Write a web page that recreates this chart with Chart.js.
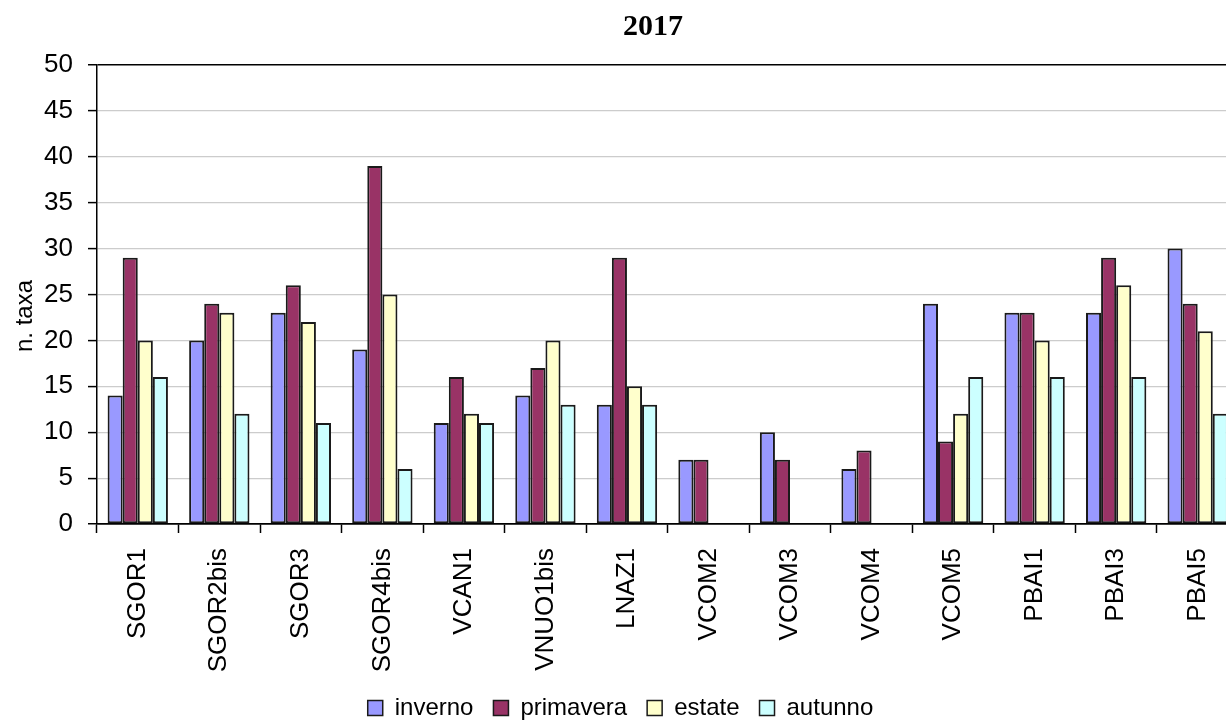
<!DOCTYPE html>
<html>
<head>
<meta charset="utf-8">
<title>2017 - n. taxa</title>
<script src="https://cdn.jsdelivr.net/npm/chart.js@4/dist/chart.umd.min.js"></script>
<style>
  html, body { margin: 0; padding: 0; background: #fff; overflow: hidden; }
  #wrap { width: 1226px; height: 725px; overflow: hidden; }
  canvas { display: block; }
</style>
</head>
<body>
<div id="wrap"><canvas id="chart" width="1244" height="725"></canvas></div>
<script>
// Stations sampled in 2017
const stations = ['SGOR1', 'SGOR2bis', 'SGOR3', 'SGOR4bis', 'VCAN1', 'VNUO1bis', 'LNAZ1',
                  'VCOM2', 'VCOM3', 'VCOM4', 'VCOM5', 'PBAI1', 'PBAI3', 'PBAI5'];

// Number of taxa per season
const inverno   = [14, 20, 23, 19, 11, 14, 13, 7, 10, 6, 24, 23, 23, 30];
const primavera = [29, 24, 26, 39, 16, 17, 29, 7, 7, 8, 9, 23, 29, 24];
const estate    = [20, 23, 22, 25, 12, 20, 15, 0, 0, 0, 12, 20, 26, 21];
const autunno   = [16, 12, 11, 6, 11, 13, 13, 0, 0, 0, 16, 16, 16, 12];

const seasonNames = ['inverno', 'primavera', 'estate', 'autunno'];
const yTicks = [0, 5, 10, 15, 20, 25, 30, 35, 40, 45, 50];

const chartTitle = '2017';
const yTitle = 'n. taxa';

const fills = ['#9999FF', '#993366', '#FFFFCC', '#CCFFFF'];
const series = [inverno, primavera, estate, autunno];

const datasets = series.map((vals, i) => ({
  label: seasonNames[i],
  data: vals,
  backgroundColor: fills[i],
  borderColor: '#1a1a1a',
  borderWidth: 2,
  borderSkipped: false,
  barPercentage: 1.0,
  categoryPercentage: 0.74
}));

// Title and rotated axis caption drawn directly on the canvas
const captions = {
  id: 'captions',
  afterDraw(chart) {
    const ctx = chart.ctx;
    ctx.save();
    ctx.fillStyle = '#000';
    ctx.textAlign = 'center';
    ctx.textBaseline = 'middle';
    ctx.font = 'bold 30px "Liberation Serif", "Times New Roman", serif';
    ctx.fillText(chartTitle, 653, 27);
    ctx.translate(25, 316);
    ctx.rotate(-Math.PI / 2);
    ctx.font = '24px "Liberation Sans", Arial, sans-serif';
    ctx.fillText(yTitle, 0, 0);
    ctx.restore();
  }
};

Chart.defaults.font.family = '"Liberation Sans", Arial, sans-serif';
Chart.defaults.color = '#000';

new Chart(document.getElementById('chart'), {
  type: 'bar',
  data: { labels: stations, datasets },
  plugins: [captions],
  options: {
    responsive: false,
    animation: false,
    devicePixelRatio: 1,
    layout: { padding: { top: 65, left: 0, right: 3, bottom: -5 } },
    plugins: {
      title: { display: false },
      tooltip: { enabled: false },
      legend: {
        display: true,
        position: 'bottom',
        labels: {
          boxWidth: 15,
          boxHeight: 15,
          padding: 20,
          color: '#000',
          font: { size: 24 },
          generateLabels(chart) {
            return chart.data.datasets.map((ds, i) => ({
              text: ds.label,
              fillStyle: ds.backgroundColor,
              strokeStyle: '#1a1a1a',
              lineWidth: 1.5,
              hidden: false,
              datasetIndex: i
            }));
          }
        }
      }
    },
    scales: {
      x: {
        offset: true,
        grid: {
          offset: true,
          drawOnChartArea: false,
          drawTicks: true,
          tickLength: 9,
          tickColor: '#000',
          tickWidth: 1.5
        },
        border: { display: true, color: '#000', width: 1.5 },
        ticks: {
          autoSkip: false,
          maxRotation: 90,
          minRotation: 90,
          padding: 15,
          color: '#000',
          font: { size: 26 }
        },
        afterFit(scale) { scale.height = 152; }
      },
      y: {
        min: 0,
        max: 50,
        afterBuildTicks(scale) { scale.ticks = yTicks.map(v => ({ value: v })); },
        grid: {
          color: (c) => (c.tick && (c.tick.value === 0 || c.tick.value === 50)) ? '#000' : '#cccccc',
          lineWidth: (c) => (c.tick && (c.tick.value === 0 || c.tick.value === 50)) ? 1.5 : 1.2,
          tickLength: 9,
          tickColor: '#000',
          tickWidth: 1.5
        },
        border: { display: true, color: '#000', width: 1.5 },
        ticks: {
          padding: 15,
          color: '#000',
          font: { size: 26 }
        },
        afterFit(scale) { scale.width = 97; }
      }
    }
  }
});
</script>
</body>
</html>
